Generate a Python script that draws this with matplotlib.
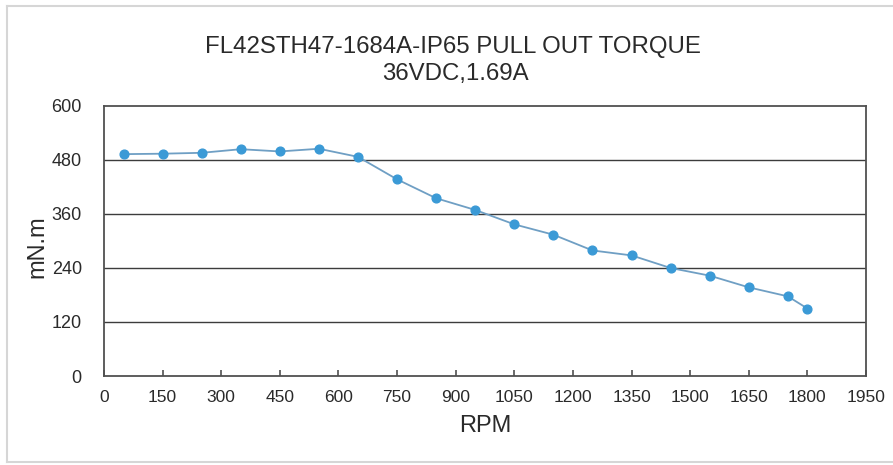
import matplotlib
matplotlib.use('Agg')
import matplotlib.pyplot as plt
from matplotlib.lines import Line2D

plt.rcParams['font.family'] = ['Liberation Sans', 'DejaVu Sans']

# pull out torque curve
rpm = [50, 150, 250, 350, 450, 550, 650, 750, 850, 950, 1050, 1150, 1250,
       1350, 1450, 1550, 1650, 1750, 1800]
torque = [493, 494, 496, 504, 499, 505, 487, 437, 395, 369, 337, 314, 279,
          268, 240, 223, 197, 177, 150]

xTicks = list(range(0, 1951, 150))
yTicks = [0, 120, 240, 360, 480, 600]

title1 = 'FL42STH47-1684A-IP65 PULL OUT TORQUE'
title2 = '36VDC,1.69A'

W, H = 893, 465
fig = plt.figure(figsize=(W / 100, H / 100), dpi=100)
fig.patch.set_facecolor('white')

left, right, top, bottom = 104, 866, 106, 376
ax = fig.add_axes([left / W, 1 - bottom / H, (right - left) / W, (bottom - top) / H])

gridColor = '#3c3c3c'
spineColor = '#505050'
textColor = '#2a2a2a'

ax.plot(rpm, torque, color='#6f9fc4', linewidth=1.3, zorder=3)
ax.plot(rpm, torque, linestyle='none', marker='o', markersize=6.3,
        color='#3b9ad6', markeredgecolor='#3b9ad6', zorder=4)

ax.set_xlim(0, 1950)
ax.set_ylim(0, 600)
ax.set_xticks(xTicks)
ax.set_yticks(yTicks)
ax.tick_params(axis='x', direction='in', length=4, width=1.2, color=spineColor,
               labelsize=12.5, labelcolor=textColor, pad=10)
ax.tick_params(axis='y', length=0, labelsize=13, labelcolor=textColor, pad=16)

for val in yTicks[1:-1]:
    ax.axhline(val, color=gridColor, linewidth=1.0, zorder=1)

for s in ax.spines.values():
    s.set_color(spineColor)
    s.set_linewidth(1.3)

ax.set_xlabel('RPM', fontsize=17, color=textColor)
ax.xaxis.set_label_coords(0.5, -0.143)
fig.text(37 / W, 1 - 247 / H, 'mN.m', rotation=90, ha='center', va='center',
         fontsize=17, color=textColor)

fig.text(453 / W, 1 - 53 / H, title1, ha='center', va='baseline', fontsize=17.3, color=textColor)
fig.text(455 / W, 1 - 80 / H, title2, ha='center', va='baseline', fontsize=17.3, color=textColor)

# light frame around the picture
frameColor = '#d6d6d6'
fig.add_artist(Line2D([7 / W, 1], [1 - 6 / H, 1 - 6 / H], color=frameColor, linewidth=1.5))
fig.add_artist(Line2D([7 / W, 7 / W], [1 - 6 / H, 1 - 462 / H], color=frameColor, linewidth=1.5))
fig.add_artist(Line2D([7 / W, 1], [1 - 462 / H, 1 - 462 / H], color=frameColor, linewidth=1.5))

fig.savefig('out.png', dpi=100)
